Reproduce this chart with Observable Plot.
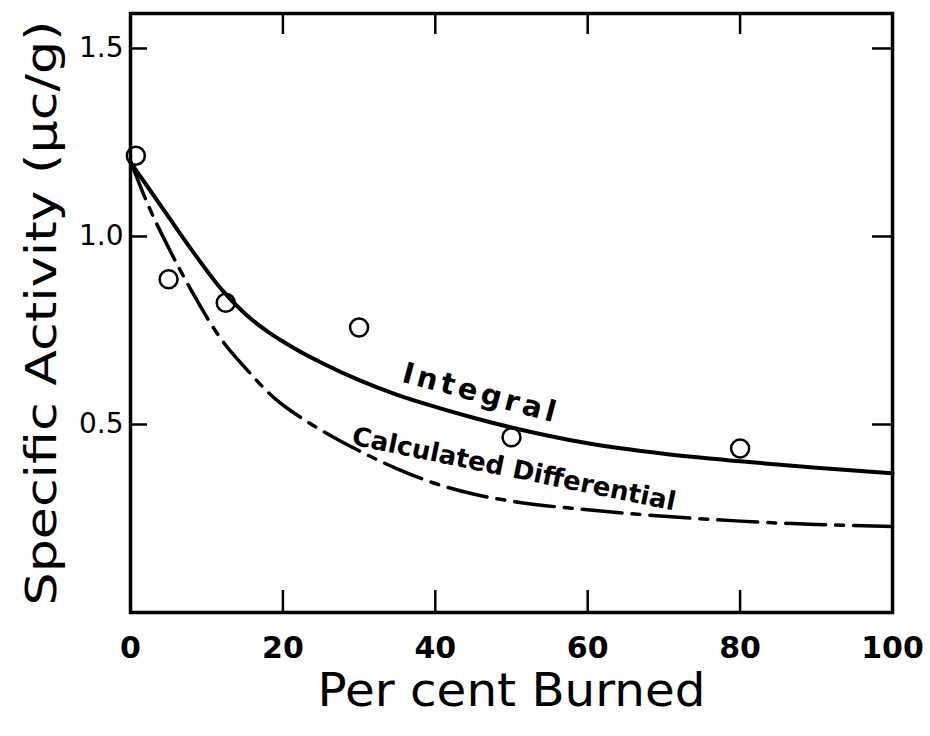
<!DOCTYPE html>
<html><head><meta charset="utf-8">
<script src="https://cdn.jsdelivr.net/npm/d3@7"></script>
<script src="https://cdn.jsdelivr.net/npm/@observablehq/plot@0.6"></script>
<style>
body{margin:0;background:#fff}
.lblInt text{letter-spacing:4px}
</style>
</head><body><div id="chart"></div>
<script>
// measured points
const measuredPct = [0.7, 5, 12.5, 30, 50, 80];
const measuredActivity = [1.215, 0.886, 0.824, 0.758, 0.466, 0.436];
// "Integral" curve
const integralPct = [0, 2.5, 5, 8, 12, 15, 18, 22, 25, 30, 35, 40, 45, 50, 60, 70, 80, 90, 100];
const integralActivity = [1.197, 1.125, 1.052, 0.965, 0.858, 0.795, 0.747, 0.697, 0.665, 0.618, 0.579, 0.547, 0.518, 0.492, 0.450, 0.422, 0.402, 0.385, 0.370];
// "Calculated Differential" curve
const differentialPct = [0, 2.5, 5, 8, 12, 15, 19, 23, 27, 30, 35, 40, 45, 50, 60, 70, 80, 90, 100];
const differentialActivity = [1.20, 1.075, 0.97, 0.856, 0.724, 0.652, 0.568, 0.51, 0.462, 0.43, 0.382, 0.343, 0.315, 0.296, 0.273, 0.256, 0.243, 0.234, 0.229];
// tick labels and texts
const xTicks = [0, 20, 40, 60, 80, 100];
const yTicks = [0.5, 1.0, 1.5];
const xLabel = "Per cent Burned";
const yLabel = "Specific Activity (μc/g)";
const curveNames = ["Integral", "Calculated Differential"];
const curveLabelPct = [45.7, 50.1];
const curveLabelActivity = [0.559, 0.359];

const points = measuredPct.map((x, i) => ({x, y: measuredActivity[i]}));
const integral = integralPct.map((x, i) => ({x, y: integralActivity[i]}));
const differential = differentialPct.map((x, i) => ({x, y: differentialActivity[i]}));
const labels = curveNames.map((t, i) => ({t, x: curveLabelPct[i], y: curveLabelActivity[i]}));

const font = "DejaVu Sans";
const chart = Plot.plot({
  width: 930, height: 736,
  marginLeft: 130, marginRight: 38, marginTop: 13, marginBottom: 124,
  x: {domain: [0, 100]},
  y: {domain: [0, 1.593]},
  style: {fontFamily: font, color: "black", background: "white"},
  marks: [
    Plot.axisX({ticks: xTicks, anchor: "bottom", tickSize: -22, tickPadding: 22 + 24, fontSize: 30, fontWeight: "bold", strokeWidth: 2.5, label: null}),
    Plot.axisX({ticks: xTicks.slice(1, -1), anchor: "top", tickSize: -20, tickFormat: () => "", strokeWidth: 2.5, label: null}),
    Plot.axisY({ticks: yTicks, anchor: "left", tickSize: -17, tickPadding: 17 + 7, fontSize: 28, tickFormat: d => d.toFixed(1), strokeWidth: 2.5, label: null}),
    Plot.axisY({ticks: yTicks, anchor: "right", tickSize: -21, tickFormat: () => "", strokeWidth: 2.5, label: null}),
    Plot.frame({strokeWidth: 3.5}),
    Plot.line(integral, {x: "x", y: "y", curve: "monotone-x", strokeWidth: 4}),
    Plot.line(differential, {x: "x", y: "y", curve: "monotone-x", strokeWidth: 3.5, strokeDasharray: "40,10,8,10"}),
    Plot.dot(points, {x: "x", y: "y", r: 9, stroke: "black", strokeWidth: 2.5, fill: "none"}),
    Plot.text(labels.slice(0, 1), {x: "x", y: "y", text: "t", rotate: 15, lineAnchor: "bottom", fontSize: 29, fontWeight: "bold", className: "lblInt"}),
    Plot.text(labels.slice(1), {x: "x", y: "y", text: "t", rotate: 11.6, lineAnchor: "bottom", fontSize: 26, fontWeight: "bold"}),
    Plot.text([xLabel], {frameAnchor: "bottom", dy: 78, fontSize: 47, textAnchor: "middle", lineAnchor: "middle", className: "xlab"}),
    Plot.text([yLabel], {frameAnchor: "left", dx: -88, rotate: -90, fontSize: 42, textAnchor: "middle", lineAnchor: "middle", className: "ylab"})
  ]
});
d3.select(chart).selectAll(".xlab text").attr("textLength", 388).attr("lengthAdjust", "spacingAndGlyphs");
d3.select(chart).selectAll(".ylab text").attr("textLength", 585).attr("lengthAdjust", "spacingAndGlyphs");
document.getElementById("chart").appendChild(chart);
</script>
</body></html>
